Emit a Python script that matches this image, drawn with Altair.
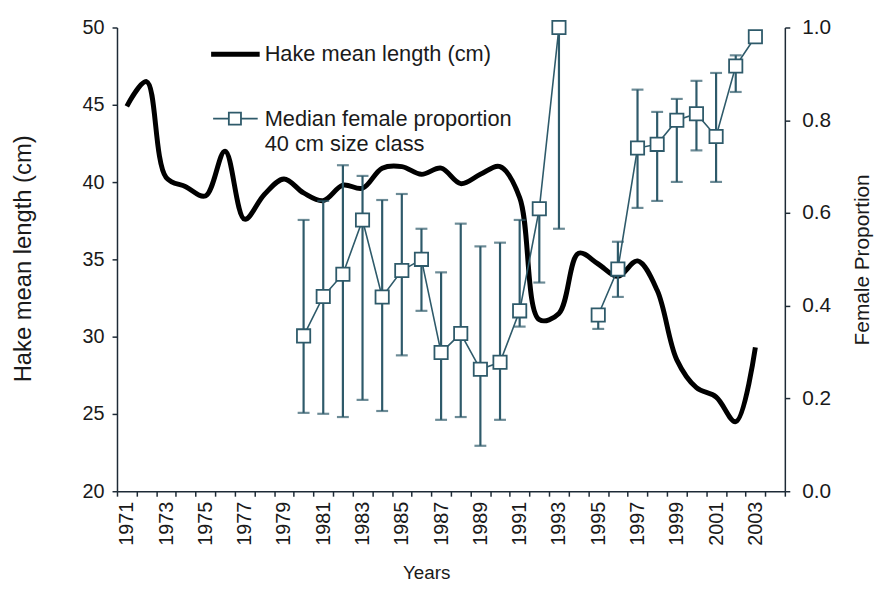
import altair as alt
import pandas as pd

# ---------------- data ----------------
axis_years = list(range(1971, 2005))
hake_years = list(range(1971, 2004))
hake_length = [44.9, 46.5, 40.3, 39.7, 39.1, 42.0, 37.6, 39.2, 40.2, 39.3,
               38.8, 39.8, 39.6, 40.9, 41.0, 40.5, 40.9, 39.9, 40.5, 41.0,
               39.0, 31.1, 31.5, 35.4, 34.7, 33.9, 34.9, 33.0, 28.5, 26.7,
               26.1, 24.5, 29.3]

prop_years = [1980, 1981, 1982, 1983, 1984, 1985, 1986, 1987, 1988, 1989,
              1990, 1991, 1992, 1993, 1995, 1996, 1997, 1998, 1999, 2000,
              2001, 2002, 2003]
prop_median = [0.335, 0.42, 0.468, 0.585, 0.419, 0.476, 0.50, 0.299, 0.34, 0.263,
               0.278, 0.389, 0.609, 1.0, 0.38, 0.479, 0.74, 0.748, 0.80, 0.814,
               0.765, 0.917, 0.98]
prop_low = [0.169, 0.167, 0.16, 0.197, 0.173, 0.293, 0.389, 0.154, 0.16, 0.098,
            0.154, 0.355, 0.45, 0.566, 0.35, 0.419, 0.611, 0.626, 0.667, 0.735,
            0.667, 0.861, None]
prop_high = [0.585, 0.626, 0.703, 0.68, 0.628, 0.641, 0.566, 0.472, 0.577, 0.528,
             0.536, 0.585, 0.62, 1.0, 0.39, 0.538, 0.866, 0.818, 0.846, 0.885,
             0.902, 0.94, None]
prop_segment = [1] * 14 + [2] * 9

legend_hake = "Hake mean length (cm)"
legend_prop = ["Median female proportion", "40 cm size class"]

hake_df = pd.DataFrame({"year": hake_years, "length": hake_length})
prop_df = pd.DataFrame({"year": prop_years, "median": prop_median,
                        "lo": prop_low, "hi": prop_high, "seg": prop_segment})
err_df = prop_df.dropna(subset=["lo", "hi"])

# ---------------- style ----------------
W, H = 674, 468
FONT = "Liberation Sans"
AX = "#1d2a36"
TXT = "#1a1a1a"
PC = "#2e5a6a"

xscale = alt.Scale(type="band", domain=axis_years, paddingInner=0, paddingOuter=0)

x_axis = alt.Axis(
    title="Years", labelAngle=270,
    labelExpr="datum.value % 2 == 1 ? datum.label : ''",
    tickBand="extent", tickSize=5, labelPadding=5, labelFontSize=20,
    titleFontSize=19, titleX=312, titleY=73, titleFontWeight="normal",
    grid=False, labelOverlap=False,
)
X = alt.X("year:O", scale=xscale, axis=x_axis)

hake = alt.Chart(hake_df).mark_line(
    color="black", strokeWidth=5, interpolate="catmull-rom"
).encode(
    x=X,
    y=alt.Y("length:Q",
            scale=alt.Scale(domain=[20, 50], nice=False, zero=False),
            axis=alt.Axis(title="Hake mean length (cm)", values=[20, 25, 30, 35, 40, 45, 50],
                          tickSize=5, labelPadding=8, labelFontSize=20,
                          titleFontSize=24, titleX=-82, titleY=233,
                          titleFontWeight="normal", grid=False)),
)

yprop = alt.Scale(domain=[0, 1], nice=False, zero=False)
r_axis = alt.Axis(orient="right", title="Female Proportion",
                  values=[0, 0.2, 0.4, 0.6, 0.8, 1.0], format=".1f",
                  tickSize=5, labelPadding=12, labelFontSize=21,
                  titleFontSize=21, titleAngle=270, titleX=88, titleY=234,
                  titleFontWeight="normal", grid=False)

err = alt.Chart(err_df).mark_rule(color=PC, strokeWidth=2.2).encode(
    x=X,
    y=alt.Y("lo:Q", scale=yprop, axis=r_axis, title="Female Proportion"),
    y2="hi:Q",
)
cap_lo = alt.Chart(err_df).mark_tick(color=PC, orient="horizontal", size=12, thickness=2.2).encode(
    x=X,
    y=alt.Y("lo:Q", scale=yprop, axis=r_axis, title="Female Proportion"),
)
cap_hi = alt.Chart(err_df).mark_tick(color=PC, orient="horizontal", size=12, thickness=2.2).encode(
    x=X,
    y=alt.Y("hi:Q", scale=yprop, axis=r_axis, title="Female Proportion"),
)
pline = alt.Chart(prop_df).mark_line(color=PC, strokeWidth=1.6).encode(
    x=X,
    y=alt.Y("median:Q", scale=yprop, axis=r_axis, title="Female Proportion"),
    detail="seg:N",
)
pts = alt.Chart(prop_df).mark_square(
    size=180, fill="white", stroke=PC, strokeWidth=1.8, opacity=1
).encode(
    x=X,
    y=alt.Y("median:Q", scale=yprop, axis=r_axis, title="Female Proportion"),
)
prop_layer = alt.layer(err, cap_lo, cap_hi, pline, pts)

one = pd.DataFrame({"k": [0]})
leg_line = alt.Chart(one).mark_rule(color="black", strokeWidth=5).encode(
    x=alt.value(95), x2=alt.value(144), y=alt.value(27))
leg_text1 = alt.Chart(pd.DataFrame({"t": [legend_hake]})).mark_text(
    align="left", baseline="middle", fontSize=22, font=FONT, color=TXT
).encode(x=alt.value(149), y=alt.value(27), text="t:N")
leg_pline = alt.Chart(one).mark_rule(color=PC, strokeWidth=1.6).encode(
    x=alt.value(97), x2=alt.value(142), y=alt.value(92))
leg_pt = alt.Chart(one).mark_square(
    size=150, fill="white", stroke=PC, strokeWidth=1.8, opacity=1
).encode(x=alt.value(119), y=alt.value(92))
leg_text2 = alt.Chart(pd.DataFrame({"t": [legend_prop[0]]})).mark_text(
    align="left", baseline="middle", fontSize=22, font=FONT, color=TXT
).encode(x=alt.value(149), y=alt.value(92), text="t:N")
leg_text3 = alt.Chart(pd.DataFrame({"t": [legend_prop[1]]})).mark_text(
    align="left", baseline="middle", fontSize=22, font=FONT, color=TXT
).encode(x=alt.value(149), y=alt.value(118), text="t:N")

chart = alt.layer(
    hake, prop_layer, leg_line, leg_text1, leg_pline, leg_pt, leg_text2, leg_text3
).resolve_scale(
    y="independent"
).properties(
    width=W, height=H,
    autosize=alt.AutoSizeParams(type="none"),
    padding={"left": 110, "top": 17, "right": 92, "bottom": 97},
    background="white",
).configure_view(
    stroke=None
).configure_axis(
    labelFont=FONT, titleFont=FONT, labelColor=TXT, titleColor=TXT,
    domainColor=AX, tickColor=AX, domainWidth=1.5, tickWidth=1.5,
)

chart.save("out.html", embed_options={"renderer": "svg", "actions": False})
